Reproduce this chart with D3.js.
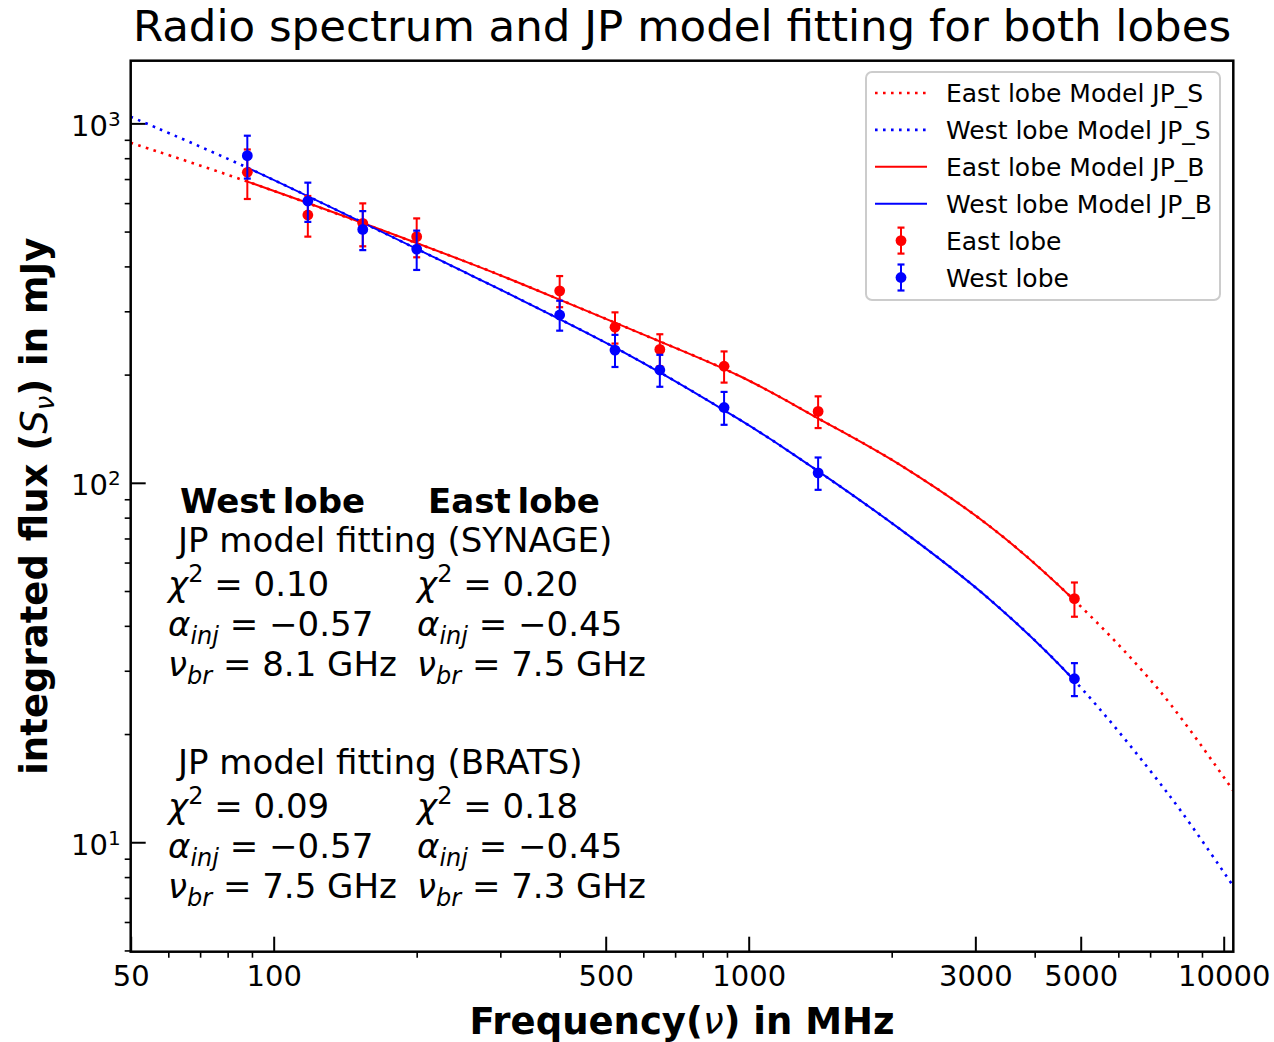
<!DOCTYPE html>
<html>
<head>
<meta charset="utf-8">
<script src="https://cdn.jsdelivr.net/npm/d3@7"></script>
<style>
  body { margin: 0; background: #fff; }
  svg { display: block; }
  text { font-family: "DejaVu Sans", sans-serif; fill: #000; }
</style>
</head>
<body>
<div id="chart"></div>
<script>
// Observed frequencies (MHz) and flux densities (mJy)
const freqs = [88, 118, 154, 200, 400, 523, 650, 887.5, 1400, 4850];
const eastFlux = [731, 556, 527, 484, 342, 271, 235, 211, 158, 47.6];
const eastErr = [115, 72, 72, 60, 34, 27, 24, 21, 16, 5.2];
const westFlux = [813, 608, 507, 447, 293, 234, 206, 162, 106.6, 28.5];
const westErr = [111, 76, 63, 56, 28, 24, 21, 17, 11, 3];

// JP model curves
const eastModelFreq = [50, 87.4, 259, 330, 562, 959, 1393, 2083, 3221, 4810, 7345, 10476];
const eastModelFlux = [883, 691, 408, 359, 268, 197.9, 151.7, 112.2, 75.6, 47.6, 26.3, 13.9];
const westModelFreq = [50, 87.4, 259, 330, 562, 959, 1202, 2083, 3221, 4810, 7709, 10476];
const westModelFlux = [1043, 756, 379, 324, 226, 149.6, 123.5, 74.3, 47.3, 28.5, 13.42, 7.54];

// Ticks
const xMajor = [50, 100, 500, 1000, 3000, 5000, 10000];
const xMinor = [60, 70, 80, 90, 200, 300, 400, 600, 700, 800, 900, 2000, 4000, 6000, 7000, 8000, 9000];
const yMajor = [10, 100, 1000];
const yMinor = [5, 6, 7, 8, 9, 20, 30, 40, 50, 60, 70, 80, 90, 200, 300, 400, 500, 600, 700, 800, 900];

const width = 1274, height = 1042;
const L = 130.7, R = 1233.3, T = 60.7, B = 951.7;
const RED = "#ff0000", BLUE = "#0000ff";

const svg = d3.select("#chart").append("svg")
    .attr("width", width)
    .attr("height", height);

const x = d3.scaleLog().domain([50, 10476]).range([L, R]);
const y = d3.scaleLog().domain([4.96, 1494]).range([B, T]);

// Clip paths: plot area, and the fitted range for the JP_B curves
const defs = svg.append("defs");
defs.append("clipPath").attr("id", "plotClip")
  .append("rect").attr("x", L).attr("y", T).attr("width", R - L).attr("height", B - T);
defs.append("clipPath").attr("id", "fitClip")
  .append("rect").attr("x", x(88)).attr("y", T).attr("width", x(4850) - x(88)).attr("height", B - T);

// Title
svg.append("text")
    .attr("x", (L + R) / 2)
    .attr("y", 41)
    .attr("text-anchor", "middle")
    .style("font-size", "43.5px")
    .text("Radio spectrum and JP model fitting for both lobes");

// X axis: major ticks point in, minor ticks point out
const xAxisG = svg.append("g")
    .attr("transform", "translate(0," + B + ")")
    .call(d3.axisBottom(x).tickValues(xMajor).tickFormat(d3.format("d")).tickSize(-15).tickPadding(14));
xAxisG.select(".domain").remove();
xAxisG.selectAll("line").attr("stroke", "#000").attr("stroke-width", 2);
xAxisG.selectAll("text").style("font-size", "29px");

const xMinorG = svg.append("g")
    .attr("transform", "translate(0," + B + ")")
    .call(d3.axisBottom(x).tickValues(xMinor).tickFormat("").tickSize(6));
xMinorG.select(".domain").remove();
xMinorG.selectAll("line").attr("stroke", "#000").attr("stroke-width", 1.6);

// Y axis
const yAxisG = svg.append("g")
    .attr("transform", "translate(" + L + ",0)")
    .call(d3.axisLeft(y).tickValues(yMajor).tickSize(-15).tickPadding(10));
yAxisG.select(".domain").remove();
yAxisG.selectAll("line").attr("stroke", "#000").attr("stroke-width", 2);
yAxisG.selectAll("text")
    .attr("dy", "0.42em")
    .style("font-size", "29px")
    .each(function(d) {
      const t = d3.select(this).text(null);
      t.append("tspan").text("10");
      t.append("tspan").attr("dy", "-0.5em").style("font-size", "20px").text(Math.round(Math.log10(d)));
    });

const yMinorG = svg.append("g")
    .attr("transform", "translate(" + L + ",0)")
    .call(d3.axisLeft(y).tickValues(yMinor).tickFormat("").tickSize(6));
yMinorG.select(".domain").remove();
yMinorG.selectAll("line").attr("stroke", "#000").attr("stroke-width", 1.6);

// Axis labels
svg.append("text")
    .attr("x", (L + R) / 2)
    .attr("y", 1034)
    .attr("text-anchor", "middle")
    .style("font-size", "37px")
    .style("font-weight", "bold")
    .call(t => {
      t.append("tspan").text("Frequency(");
      t.append("tspan").style("font-style", "italic").style("font-weight", "normal").text("ν");
      t.append("tspan").text(") in MHz");
    });

svg.append("text")
    .attr("transform", "translate(47," + ((T + B) / 2) + ") rotate(-90)")
    .attr("text-anchor", "middle")
    .style("font-size", "37px")
    .style("font-weight", "bold")
    .call(t => {
      t.append("tspan").text("integrated flux (");
      t.append("tspan").style("font-style", "italic").style("font-weight", "normal").text("S");
      t.append("tspan").attr("dy", 7).style("font-style", "italic").style("font-weight", "normal")
        .style("font-size", "26px").text("ν");
      t.append("tspan").attr("dy", -7).text(") in mJy");
    });

// Model curves
const line = d3.line()
    .x(d => x(d[0]))
    .y(d => y(d[1]))
    .curve(d3.curveCatmullRom.alpha(0.5));

const eastModel = eastModelFreq.map((f, i) => [f, eastModelFlux[i]]);
const westModel = westModelFreq.map((f, i) => [f, westModelFlux[i]]);

const curves = svg.append("g").attr("clip-path", "url(#plotClip)");
// JP_S dotted, full range
curves.append("path").datum(eastModel)
    .attr("d", line).attr("fill", "none").attr("stroke", RED)
    .attr("stroke-width", 2.6).attr("stroke-dasharray", "2.6,5.4");
curves.append("path").datum(westModel)
    .attr("d", line).attr("fill", "none").attr("stroke", BLUE)
    .attr("stroke-width", 2.6).attr("stroke-dasharray", "2.6,5.4");
// JP_B solid, over the fitted range
const fitted = svg.append("g").attr("clip-path", "url(#fitClip)");
fitted.append("path").datum(eastModel)
    .attr("d", line).attr("fill", "none").attr("stroke", RED).attr("stroke-width", 2);
fitted.append("path").datum(westModel)
    .attr("d", line).attr("fill", "none").attr("stroke", BLUE).attr("stroke-width", 2);

// Data points with error bars
function drawPoints(flux, err, color) {
  const g = svg.append("g");
  const pts = freqs.map((f, i) => ({f: f, v: flux[i], e: err[i]}));
  const grp = g.selectAll("g").data(pts).enter().append("g");
  grp.append("line")
      .attr("x1", d => x(d.f)).attr("x2", d => x(d.f))
      .attr("y1", d => y(d.v - d.e)).attr("y2", d => y(d.v + d.e))
      .attr("stroke", color).attr("stroke-width", 2);
  [d => d.v - d.e, d => d.v + d.e].forEach(fn => {
    grp.append("line")
        .attr("x1", d => x(d.f) - 3.5).attr("x2", d => x(d.f) + 3.5)
        .attr("y1", d => y(fn(d))).attr("y2", d => y(fn(d)))
        .attr("stroke", color).attr("stroke-width", 2.2);
  });
  grp.append("circle")
      .attr("cx", d => x(d.f)).attr("cy", d => y(d.v))
      .attr("r", 5.4).attr("fill", color);
}
drawPoints(eastFlux, eastErr, RED);
drawPoints(westFlux, westErr, BLUE);

// Fit results annotation
const note = svg.append("g").style("font-size", "34px");
function header(xp, yp, label) {
  note.append("text").attr("x", xp).attr("y", yp)
      .style("font-weight", "bold").style("word-spacing", "-5px").text(label);
}
function plain(xp, yp, label) {
  note.append("text").attr("x", xp).attr("y", yp).text(label);
}
function chi(xp, yp, val) {
  const t = note.append("text").attr("x", xp).attr("y", yp);
  t.append("tspan").style("font-style", "italic").text("χ");
  t.append("tspan").attr("dy", -14).style("font-size", "24px").text("2");
  t.append("tspan").attr("dy", 14).text(" = " + val);
}
function sub(xp, yp, sym, s, val) {
  const t = note.append("text").attr("x", xp).attr("y", yp);
  t.append("tspan").style("font-style", "italic").text(sym);
  t.append("tspan").attr("dy", 8).style("font-style", "italic").style("font-size", "24px").text(s);
  t.append("tspan").attr("dy", -8).text(" = " + val);
}
header(180, 513, "West lobe");
header(428, 513, "East lobe");
plain(178, 552, "JP model fitting (SYNAGE)");
chi(168, 596, "0.10");
chi(417, 596, "0.20");
sub(168, 636, "α", "inj", "−0.57");
sub(417, 636, "α", "inj", "−0.45");
sub(168, 676, "ν", "br", "8.1 GHz");
sub(417, 676, "ν", "br", "7.5 GHz");
plain(178, 774, "JP model fitting (BRATS)");
chi(168, 818, "0.09");
chi(417, 818, "0.18");
sub(168, 858, "α", "inj", "−0.57");
sub(417, 858, "α", "inj", "−0.45");
sub(168, 898, "ν", "br", "7.5 GHz");
sub(417, 898, "ν", "br", "7.3 GHz");

// Legend
const legendItems = [
  {label: "East lobe Model JP_S", color: RED, kind: "dot"},
  {label: "West lobe Model JP_S", color: BLUE, kind: "dot"},
  {label: "East lobe Model JP_B", color: RED, kind: "solid"},
  {label: "West lobe Model JP_B", color: BLUE, kind: "solid"},
  {label: "East lobe", color: RED, kind: "point"},
  {label: "West lobe", color: BLUE, kind: "point"}
];
const legend = svg.append("g");
legend.append("rect")
    .attr("x", 866).attr("y", 72).attr("width", 354).attr("height", 228)
    .attr("rx", 6).attr("fill", "#fff").attr("fill-opacity", 0.85)
    .attr("stroke", "#cccccc").attr("stroke-width", 2);
legendItems.forEach((it, i) => {
  const cy = 93 + i * 36.9;
  if (it.kind === "point") {
    legend.append("line").attr("x1", 901).attr("x2", 901).attr("y1", cy - 13).attr("y2", cy + 13)
        .attr("stroke", it.color).attr("stroke-width", 2);
    [cy - 13, cy + 13].forEach(yy => legend.append("line")
        .attr("x1", 897.5).attr("x2", 904.5).attr("y1", yy).attr("y2", yy)
        .attr("stroke", it.color).attr("stroke-width", 2.2));
    legend.append("circle").attr("cx", 901).attr("cy", cy).attr("r", 5.4).attr("fill", it.color);
  } else {
    legend.append("line").attr("x1", 875).attr("x2", 927).attr("y1", cy).attr("y2", cy)
        .attr("stroke", it.color)
        .attr("stroke-width", it.kind === "dot" ? 2.6 : 2)
        .attr("stroke-dasharray", it.kind === "dot" ? "2.6,5.4" : null);
  }
  legend.append("text").attr("x", 946).attr("y", cy).attr("dy", "0.36em")
      .style("font-size", "25px").text(it.label);
});

// Frame
svg.append("rect")
    .attr("x", L).attr("y", T).attr("width", R - L).attr("height", B - T)
    .attr("fill", "none").attr("stroke", "#000").attr("stroke-width", 2.5);
</script>
</body>
</html>
